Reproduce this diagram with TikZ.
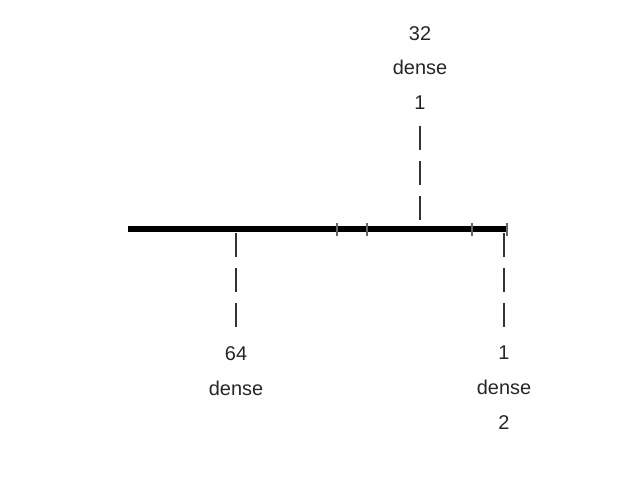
\documentclass[tikz,border=0pt]{standalone}
\usepackage{fontspec}
\setmainfont{Liberation Sans}
\usetikzlibrary{calc}

\begin{document}
\begin{tikzpicture}
      [x = 1bp, y = -1bp,
      stem/.style={
         draw = black!80,
         line width = 1.6bp,
         dash pattern = on 24bp off 11bp
      },
      tick/.style={
         draw = black!60,
         line width = 1.5bp
      },
      lbl/.style= {
         align = center,
         inner sep = 0pt,
         text = black!85,
         font = \fontsize{20}{35}\selectfont
      }]
      \useasboundingbox (0, 0) rectangle (640, 480);

      \coordinate (left) at (128, 229);
      \coordinate (right) at (508, 229);
      \coordinate (jtop) at (420, 229);
      \coordinate (jleft) at (236, 229);
      \coordinate (jright) at (504, 229);

      \node[lbl] (top) at (420, 68) {32\\dense\\1};
      \node[lbl] (lo) at (236, 371) {64\\dense};
      \node[lbl] (ro) at (504, 388) {1\\dense\\2};

      \draw[line width = 6bp] (left) -- (right);
      \foreach \t in {337, 367, 472, 507}
         \draw[tick] (\t, 223) -- (\t, 236);

      \draw[stem] (jtop) ++(0, -9) -- (420, 124);
      \draw[stem] (jleft) ++(0, 4) -- (236, 330);
      \draw[stem] (jright) ++(0, 4) -- (504, 330);

   \end{tikzpicture}
\end{document}
